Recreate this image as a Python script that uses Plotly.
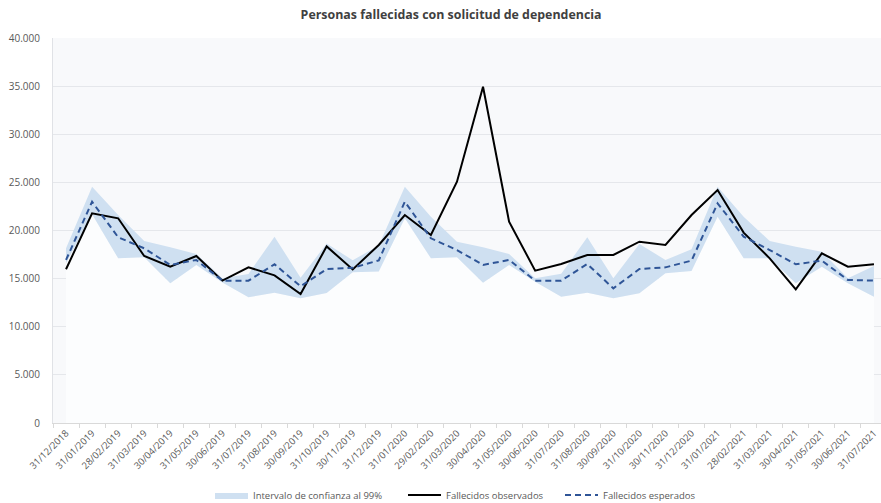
import plotly.graph_objects as go

dates = ["31/12/2018", "31/01/2019", "28/02/2019", "31/03/2019", "30/04/2019", "31/05/2019",
         "30/06/2019", "31/07/2019", "31/08/2019", "30/09/2019", "31/10/2019", "30/11/2019",
         "31/12/2019", "31/01/2020", "29/02/2020", "31/03/2020", "30/04/2020", "31/05/2020",
         "30/06/2020", "31/07/2020", "31/08/2020", "30/09/2020", "31/10/2020", "30/11/2020",
         "31/12/2020", "31/01/2021", "28/02/2021", "31/03/2021", "30/04/2021", "31/05/2021",
         "30/06/2021", "31/07/2021"]

observados = [15970, 21790, 21270, 17350, 16240, 17350, 14790, 16170, 15340, 13400, 18350, 15950,
              18500, 21610, 19530, 25070, 34940, 20920, 15830, 16520, 17460, 17460, 18840, 18490,
              21610, 24210, 19780, 17110, 13890, 17630, 16240, 16490]

esperados = [16940, 22990, 19300, 18150, 16420, 16940, 14790, 14790, 16490, 14200, 15990, 16120,
             16900, 22990, 19190, 17970, 16420, 16940, 14790, 14790, 16520, 13990, 16000, 16170,
             16870, 22820, 19360, 17970, 16490, 16870, 14860, 14790]

ic_superior = [18150, 24550, 21610, 18910, 18250, 17560, 15030, 15480, 19360, 15080, 18650, 16900,
               18450, 24550, 21440, 18840, 18250, 17560, 15030, 15500, 19290, 15030, 18600, 16940,
               18040, 24550, 21440, 18910, 18320, 17800, 15030, 16310]

ic_inferior = [16600, 21700, 17110, 17210, 14510, 16420, 14600, 13060, 13540, 12960, 13500, 15650,
               15750, 21270, 17110, 17210, 14580, 16420, 14680, 13120, 13540, 12960, 13470, 15550,
               15790, 21440, 17110, 17110, 14510, 16240, 14510, 13120]

fig = go.Figure()

fig.add_trace(go.Scatter(
    x=dates, y=ic_inferior, mode="lines", line=dict(width=0, color="rgba(0,0,0,0)"),
    fill="tozeroy", fillcolor="#fcfdfe", showlegend=False, hoverinfo="skip"))

fig.add_trace(go.Scatter(
    x=dates, y=ic_superior, mode="lines", line=dict(width=0, color="rgba(0,0,0,0)"),
    fill="tonexty", fillcolor="#cfe0f1", name="Intervalo de confianza al 99%",
    legend="legend"))

fig.add_trace(go.Scatter(
    x=dates, y=observados, mode="lines", line=dict(color="#000000", width=2),
    name="Fallecidos observados", legend="legend2"))

fig.add_trace(go.Scatter(
    x=dates, y=esperados, mode="lines", line=dict(color="#2f5597", width=2, dash="6px,4px"),
    name="Fallecidos esperados", legend="legend3"))

legend_common = dict(orientation="h", xanchor="left", y=-0.187, yanchor="middle",
                     font=dict(family="Open Sans", size=9.5, color="#595959"),
                     bgcolor="rgba(0,0,0,0)", itemwidth=33)

fig.update_layout(
    width=881, height=503,
    margin=dict(l=53, r=0, t=38, b=80, autoexpand=False),
    paper_bgcolor="#ffffff",
    plot_bgcolor="#f8f9fb",
    separators=",.",
    font=dict(family="Open Sans", size=10, color="#595959"),
    title=dict(text="<b>Personas fallecidas con solicitud de dependencia</b>",
               x=0.512, xanchor="center", y=0.97, yanchor="middle",
               font=dict(family="Open Sans", size=12.4, color="#404040")),
    legend=dict(x=0.1896, **legend_common),
    legend2=dict(x=0.4227, **legend_common),
    legend3=dict(x=0.6123, **legend_common),
    showlegend=True,
)

fig.update_xaxes(
    type="category", range=[-0.5, 31.27], tickangle=-45, automargin=False,
    showgrid=False, showline=True, linecolor="#d9d9d9", linewidth=1,
    ticks="outside", tickson="boundaries", ticklen=4, tickcolor="#d9d9d9",
    tickfont=dict(family="Open Sans", size=9.5, color="#595959"),
)

fig.update_yaxes(
    range=[0, 40000], dtick=5000, tickformat=",d", automargin=False,
    showgrid=True, gridcolor="#e5e7eb", gridwidth=1,
    showline=True, linecolor="#e0e2e6", linewidth=1,
    zeroline=False, ticks="", ticklabelstandoff=10,
    tickfont=dict(family="Open Sans", size=10, color="#595959"),
)

fig.write_html(
    "out.html",
    config={"displayModeBar": False},
    post_script="document.body.style.margin='0';document.body.style.padding='0';",
)
